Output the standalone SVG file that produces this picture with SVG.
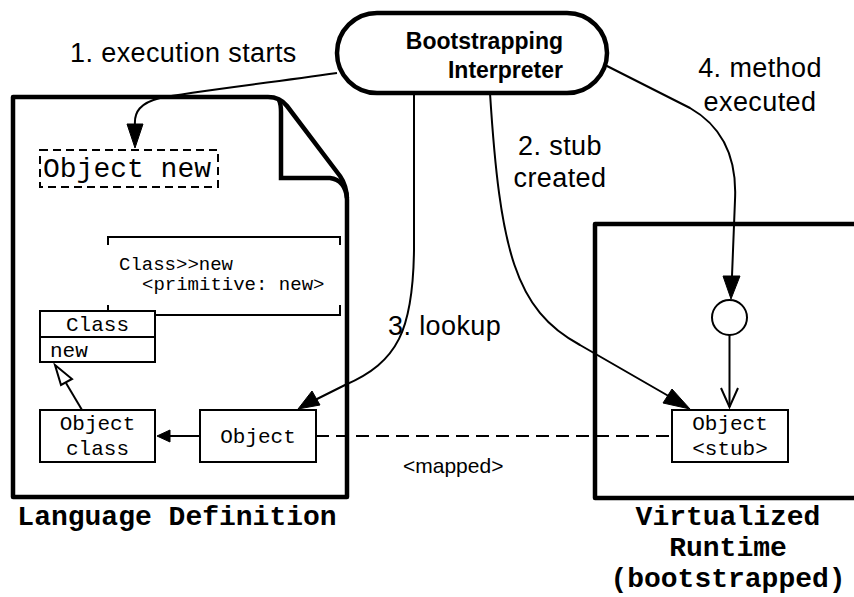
<svg xmlns="http://www.w3.org/2000/svg" width="854" height="597" viewBox="0 0 854 597">
<style>
.thick{fill:#fff;stroke:#000;stroke-width:4.5;stroke-linejoin:round}
.box{fill:#fff;stroke:#000;stroke-width:2}
.line{fill:none;stroke:#000;stroke-width:2}
.mono{font-family:"Liberation Mono","DejaVu Sans Mono",monospace;fill:#000}
.lbl{font-family:"Liberation Sans",Arial,sans-serif;font-size:27px;letter-spacing:0.4px;fill:#000}
.small{font-family:"Liberation Sans",Arial,sans-serif;font-size:21px;fill:#000}
.head{font-family:"Liberation Sans",Arial,sans-serif;font-size:23px;font-weight:bold;fill:#000;text-anchor:end}
.title{font-family:"Liberation Mono","DejaVu Sans Mono",monospace;font-weight:bold;font-size:28px;fill:#000;text-anchor:middle}
.ah{fill:#000;stroke:#000;stroke-width:1}
</style>
<rect width="854" height="597" fill="#fff"/>

<g id="language-definition">
<path class="thick" d="M13,97 L268,97 Q280,97 287,106 L340,176 Q347,186 347,200 L347,497 L13,497 Z"/>
<path class="line" style="stroke-width:4.5" d="M279,100 Q281,104 281,112 L281,178 L330,178 Q345,180 347,198"/>
<text class="title" x="177" y="525">Language Definition</text>
</g>

<g id="virtualized-runtime">
<path class="thick" d="M870,224 L595,224 L595,498 L870,498"/>
<text class="title" x="728" y="525">Virtualized</text>
<text class="title" x="728" y="556">Runtime</text>
<text class="title" x="728" y="587">(bootstrapped)</text>
</g>

<g id="interpreter">
<rect class="thick" x="337" y="13" width="270" height="80" rx="40" ry="40"/>
<text class="head" x="563" y="49">Bootstrapping</text>
<text class="head" x="563" y="78">Interpreter</text>
</g>

<g id="object-new">
<rect x="40" y="150" width="178" height="37" fill="#fff" stroke="#000" stroke-width="2" stroke-dasharray="8,5"/>
<text class="mono" x="43" y="177" font-size="28">Object new</text>
</g>

<g id="method-class-new">
<path class="line" d="M108,245 L108,237 L340,237 L340,245"/>
<path class="line" d="M108,305 L108,315 L340,315 L340,305"/>
<text class="mono" x="119" y="270" font-size="19">Class&gt;&gt;new</text>
<text class="mono" x="142" y="290" font-size="19">&lt;primitive: new&gt;</text>
</g>

<g id="class">
<rect class="box" x="40" y="311" width="115" height="51"/>
<line class="line" x1="40" y1="337" x2="155" y2="337"/>
<text class="mono" x="97.5" y="331" font-size="21" text-anchor="middle">Class</text>
<text class="mono" x="50" y="357" font-size="21">new</text>
</g>

<g id="object-class">
<rect class="box" x="40" y="410" width="115" height="52"/>
<text class="mono" x="97.5" y="430" font-size="21" text-anchor="middle">Object</text>
<text class="mono" x="97.5" y="455" font-size="21" text-anchor="middle">class</text>
</g>

<g id="object">
<rect class="box" x="200" y="410" width="116" height="52"/>
<text class="mono" x="258" y="443" font-size="21" text-anchor="middle">Object</text>
</g>

<g id="object-stub">
<rect class="box" x="672" y="410" width="116" height="52"/>
<text class="mono" x="730" y="430" font-size="21" text-anchor="middle">Object</text>
<text class="mono" x="730" y="455" font-size="21" text-anchor="middle">&lt;stub&gt;</text>
</g>

<g id="method-node">
<circle cx="729.5" cy="317.5" r="17.5" fill="#fff" stroke="#000" stroke-width="2"/>
</g>

<g id="connectors">
<path class="line" d="M337,73 C 260,84 190,92 160,98 C 140,103 134,112 135,125"/>
<polygon class="ah" points="135,148 127,124 143,124"/>
<path class="line" d="M490,93 C 500,250 515,310 580,345 L672,398"/>
<polygon class="ah" points="690,409 663,403 672,389"/>
<path class="line" d="M414,93 L414,250 C 413,330 398,362 345,385 L315,400"/>
<polygon class="ah" points="298,409 312,391 320,405"/>
<path class="line" d="M605,65 L690,108 C 725,128 737,160 735,200 L732,276"/>
<polygon class="ah" points="731,299 723,276 740,276"/>
<line class="line" x1="729.5" y1="335" x2="729.5" y2="407"/>
<path class="line" d="M721,388 L729.5,407 L738,388"/>
<line class="line" x1="200" y1="436" x2="168" y2="436"/>
<polygon class="ah" points="157,436 170,430 170,442"/>
<line class="line" x1="82" y1="410" x2="66" y2="383"/>
<polygon points="55,365 72,379 61,385" fill="#fff" stroke="#000" stroke-width="2"/>
<line x1="316" y1="436" x2="672" y2="436" stroke="#000" stroke-width="2" stroke-dasharray="13,7"/>
</g>

<g id="labels">
<text class="lbl" x="70" y="62">1. execution starts</text>
<text class="lbl" x="560" y="155" text-anchor="middle">2. stub</text>
<text class="lbl" x="560" y="187" text-anchor="middle">created</text>
<text class="lbl" x="388" y="335">3. lookup</text>
<text class="lbl" x="760" y="77" text-anchor="middle">4. method</text>
<text class="lbl" x="760" y="111" text-anchor="middle">executed</text>
<text class="small" x="403" y="473">&lt;mapped&gt;</text>
</g>
</svg>
